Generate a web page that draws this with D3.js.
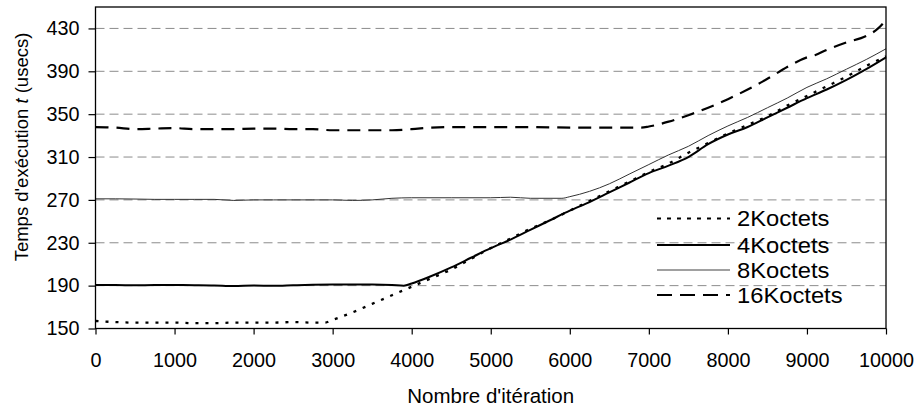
<!DOCTYPE html>
<html>
<head>
<meta charset="utf-8">
<script src="https://cdn.jsdelivr.net/npm/d3@7"></script>
<style>
  html, body { margin: 0; padding: 0; background: #fff; }
  svg { display: block; }
  text { font-family: "Liberation Sans", Arial, sans-serif; fill: #000; }
</style>
</head>
<body>
<svg id="chart" width="922" height="411"></svg>
<script>
// ---- data ----
const seriesNames = ["2Koctets", "4Koctets", "8Koctets", "16Koctets"];
const yTicks = [150, 190, 230, 270, 310, 350, 390, 430];
const xTicks = [0, 1000, 2000, 3000, 4000, 5000, 6000, 7000, 8000, 9000, 10000];

const x2 = [0,250,500,750,1000,1250,1500,1750,2000,2250,2500,2750,2900,3000,3250,3500,3750,4000,4250,4500,4750,5000,5250,5500,5750,6000,6250,6500,6750,7000,7250,7500,7750,8000,8250,8500,8750,9000,9250,9500,9750,10000];
const y2 = [157,156,155.5,155.5,155.5,155,155,155.5,155.5,155.5,156,155.5,155.5,158,165,173,181,189,197,205,215,225,234,243,251,260,269,278,287,296,304,314,323,332,340,348,358,367,376,385,395,404];

const x4 = [0,250,500,750,1000,1250,1500,1750,2000,2250,2500,2750,3000,3250,3500,3750,3900,4000,4250,4500,4750,5000,5250,5500,5750,6000,6250,6500,6750,7000,7250,7500,7750,8000,8250,8500,8750,9000,9250,9500,9750,10000];
const y4 = [190.5,190.5,190.3,190.5,190.5,190.4,190.2,189.6,190.2,189.8,190.3,190.8,191,191,191,190.6,190,192,199,207,216,225,233,242,251,260,268,277,286,295,302,310,322,331,338,347,356,365,373,382,392,403];

const x8 = [0,250,500,750,1000,1250,1500,1750,2000,2250,2500,2750,3000,3250,3500,3750,4000,4500,5000,5250,5500,5750,5900,6000,6250,6500,6750,7000,7250,7500,7750,8000,8250,8500,8750,9000,9250,9500,9750,10000];
const y8 = [271,271,270.8,270.5,270.5,270.5,270.5,269.5,270,270,270,270,270,269.5,270,271.5,272,272,272,272.5,271.5,271.5,271.5,273,278,285,294,303,312,320,330,339,347,356,365,375,383,392,401,411];

const x16 = [0,250,500,750,1000,1250,1500,1750,2000,2250,2500,2750,3000,3250,3500,3750,4000,4250,4500,5000,5500,6000,6500,6900,7000,7250,7500,7750,8000,8250,8500,8750,9000,9100,9250,9500,9750,9900,10000];
const y16 = [338,337.5,336,336.5,337,336,336,336,336.5,336.5,336,336,335,335,335,335,336,337.5,338,338,338,337.5,337.5,337.5,338.5,343,349,356,364,373,383,394,403,405,410,417,423,430,438];

// ---- layout ----
const svg = d3.select("#chart");
const L = 95.5, R = 886, T = 7, B = 328.5;

const x = d3.scaleLinear().domain([0, 10000]).range([L, R]);
const y = d3.scaleLinear().domain([150, 450]).range([B, T]);

// gridlines
svg.append("g").selectAll("line")
  .data(yTicks.filter(v => v !== 150))
  .join("line")
  .attr("x1", L).attr("x2", R)
  .attr("y1", d => y(d)).attr("y2", d => y(d))
  .attr("stroke", "#8c8c8c")
  .attr("stroke-width", 1)
  .attr("stroke-dasharray", "9,5");

// series
const styles = [
  { xs: x2, ys: y2, color: "#000", width: 2.3, dash: "3,7" },
  { xs: x4, ys: y4, color: "#000", width: 2, dash: null },
  { xs: x8, ys: y8, color: "#333", width: 1, dash: null },
  { xs: x16, ys: y16, color: "#000", width: 2.2, dash: "13,8" }
];

const line = d3.line()
  .x(d => x(d[0]))
  .y(d => y(d[1]))
  .curve(d3.curveMonotoneX);

const gLines = svg.append("g");
[2, 3, 0, 1].forEach(i => {
  const s = styles[i];
  const pts = s.xs.map((v, k) => [v, s.ys[k]]);
  gLines.append("path")
    .attr("d", line(pts))
    .attr("fill", "none")
    .attr("stroke", s.color)
    .attr("stroke-width", s.width)
    .attr("stroke-dasharray", s.dash);
});

// axes
const yAxis = d3.axisLeft(y).tickValues(yTicks).tickSize(7).tickPadding(9);
const xAxis = d3.axisBottom(x).tickValues(xTicks).tickSize(6).tickPadding(18).tickFormat(d3.format("d"));

const gy = svg.append("g").attr("transform", `translate(${L},0)`).call(yAxis);
const gx = svg.append("g").attr("transform", `translate(0,${B})`).call(xAxis);
[gy, gx].forEach(g => {
  g.select(".domain").remove();
  g.selectAll(".tick line").attr("stroke", "#000").attr("stroke-width", 1.2);
  g.selectAll(".tick text")
    .style("font-family", '"Liberation Sans", Arial, sans-serif')
    .style("font-size", "19.8px")
    .attr("fill", "#000");
});

// plot border
svg.append("rect")
  .attr("x", L).attr("y", T)
  .attr("width", R - L).attr("height", B - T)
  .attr("fill", "none")
  .attr("stroke", "#000")
  .attr("stroke-width", 1.3);

// axis titles
svg.append("text")
  .attr("x", (L + R) / 2).attr("y", 403)
  .attr("text-anchor", "middle")
  .style("font-size", "20.5px")
  .text("Nombre d'itération");

const yt = svg.append("text")
  .attr("transform", "translate(28,147) rotate(-90)")
  .attr("text-anchor", "middle")
  .style("font-size", "18.5px");
yt.append("tspan").text("Temps d'exécution ");
yt.append("tspan").style("font-style", "italic").text("t");
yt.append("tspan").text(" (usecs)");

// legend
const legY = [218.5, 245, 270, 295];
const lg = svg.append("g");
seriesNames.forEach((name, i) => {
  const s = styles[i];
  lg.append("line")
    .attr("x1", 657).attr("x2", 730)
    .attr("y1", legY[i]).attr("y2", legY[i])
    .attr("stroke", i === 2 ? "#808080" : s.color)
    .attr("stroke-width", i === 2 ? 1.5 : 2)
    .attr("stroke-dasharray", i === 0 ? "4,6" : (i === 3 ? "15,8" : null));
  lg.append("text")
    .attr("transform", `translate(737,${legY[i] + 7.5}) scale(1.08,1)`)
    .style("font-size", "22px")
    .text(name);
});
</script>
</body>
</html>
